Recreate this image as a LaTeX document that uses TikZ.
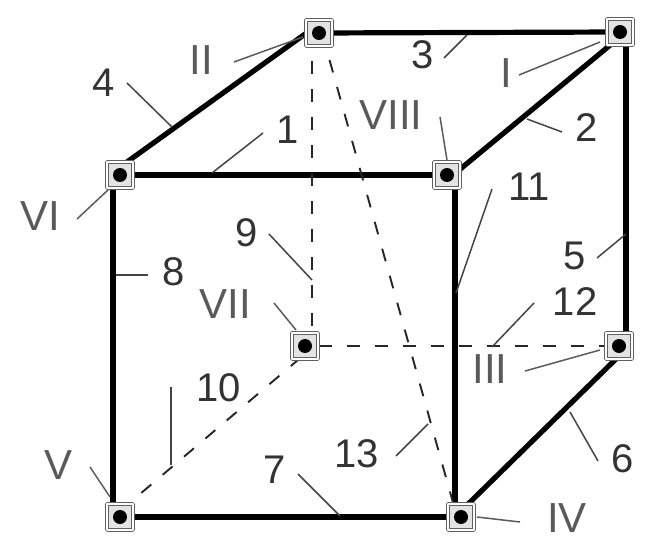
\documentclass[tikz,border=0pt]{standalone}
\usepackage{fontspec}
\setmainfont{Liberation Sans}
\usetikzlibrary{backgrounds}

\definecolor{edgegray}{HTML}{444444}
\definecolor{romangray}{HTML}{5A5A5A}
\definecolor{numgray}{HTML}{333333}

\tikzset{
    vertex/.style={draw=edgegray!85, fill=gray!22, double=white, double distance=1.4pt, line width=1.1pt, minimum size=26pt, inner sep=0pt},
    strut/.style={black, line width=5.2pt},
    hidden/.style={black!85, line width=1.9pt, dash pattern=on 13pt off 15pt},
    leader/.style={edgegray, line width=1.5pt},
    numlabel/.style={numgray, inner sep=0pt, font=\fontsize{40}{40}\selectfont},
    romanlabel/.style={romangray, inner sep=0pt, font=\fontsize{42}{42}\selectfont}
}

\begin{document}
\begin{tikzpicture}[x=1pt, y=-1pt, line cap=butt, line join=round]

\useasboundingbox (0,0) rectangle (656,548);

% vertices of the cube
\foreach \n/\x/\y in {I/620/32, II/319/33, III/619/346, IV/461/517, V/120/517, VI/120/175, VII/305/346, VIII/447/175} {
    \node[vertex] (\n) at (\x,\y) {};
    \fill[black] (\n) circle[radius=7pt];
}

\begin{pgfonlayer}{background}
% visible edges
\draw[strut] (VI) -- (VIII);
\draw[strut] (II) -- (I);
\draw[strut] (V) -- (IV);
\draw[strut] ([xshift=-7pt]VI.center) -- ([xshift=-7pt]V.center);
\draw[strut] ([xshift=8pt]VIII.center) -- ([xshift=-6pt]IV.center);
\draw[strut] ([xshift=6pt]I.center) -- ([xshift=7pt]III.center);
\draw[strut] ([yshift=8pt]VI.center) -- ([yshift=9pt]II.center);
\draw[strut] ([yshift=-5pt]VIII.center) -- ([yshift=-5pt]I.center);
\draw[strut] ([yshift=6pt]IV.center) -- ([yshift=-10pt]III.center);
% hidden edges
\draw[hidden] ([xshift=-7pt]II.center) -- ([xshift=7pt]VII.center);
\draw[hidden] (VII) -- (III);
\draw[hidden] ([yshift=6pt]V.center) -- ([yshift=-8pt]VII.center);
\draw[hidden] ([xshift=3pt]II.center) -- ([xshift=-4pt]IV.center);
\end{pgfonlayer}

% edge numbers with their leaders
\foreach \n/\lx/\ly/\ax/\ay/\bx/\by in {
    1/288/130/263/133/212/173,
    2/587/128/562/132/527/119,
    3/423/55/444/58/467/35,
    4/104/83/127/83/172/127,
    5/575/256/597/258/626/234,
    6/623/459/598/461/570/412,
    7/275/470/298/474/340/516,
    8/174/272/148/275/116/275,
    9/247/233/269/234/312/280,
    10/219/388/171/387/171/465,
    11/529/187/492/189/456/293,
    12/575/302/534/303/492/347,
    13/357/454/396/456/428/424} {
    \node[numlabel] (num\n) at (\lx,\ly) {\n};
    \coordinate (from\n) at (\ax,\ay);
    \coordinate (to\n) at (\bx,\by);
    \draw[leader] (from\n) -- (to\n);
}

% vertex numbers with their leaders
\foreach \n/\lx/\ly/\ax/\ay/\bx/\by in {
    I/506/73/519/75/600/42,
    II/201/60/234/62/303/37,
    III/490/369/525/371/600/350,
    IV/567/518/477/517/520/522,
    V/59/465/90/467/110/497,
    VI/40/216/77/219/108/190,
    VII/225/304/274/303/296/330,
    VIII/391/115/440/117/447/160} {
    \node[romanlabel] (lab\n) at (\lx,\ly) {\n};
    \coordinate (from\n) at (\ax,\ay);
    \coordinate (to\n) at (\bx,\by);
    \draw[leader, romangray] (from\n) -- (to\n);
}

\end{tikzpicture}
\end{document}
